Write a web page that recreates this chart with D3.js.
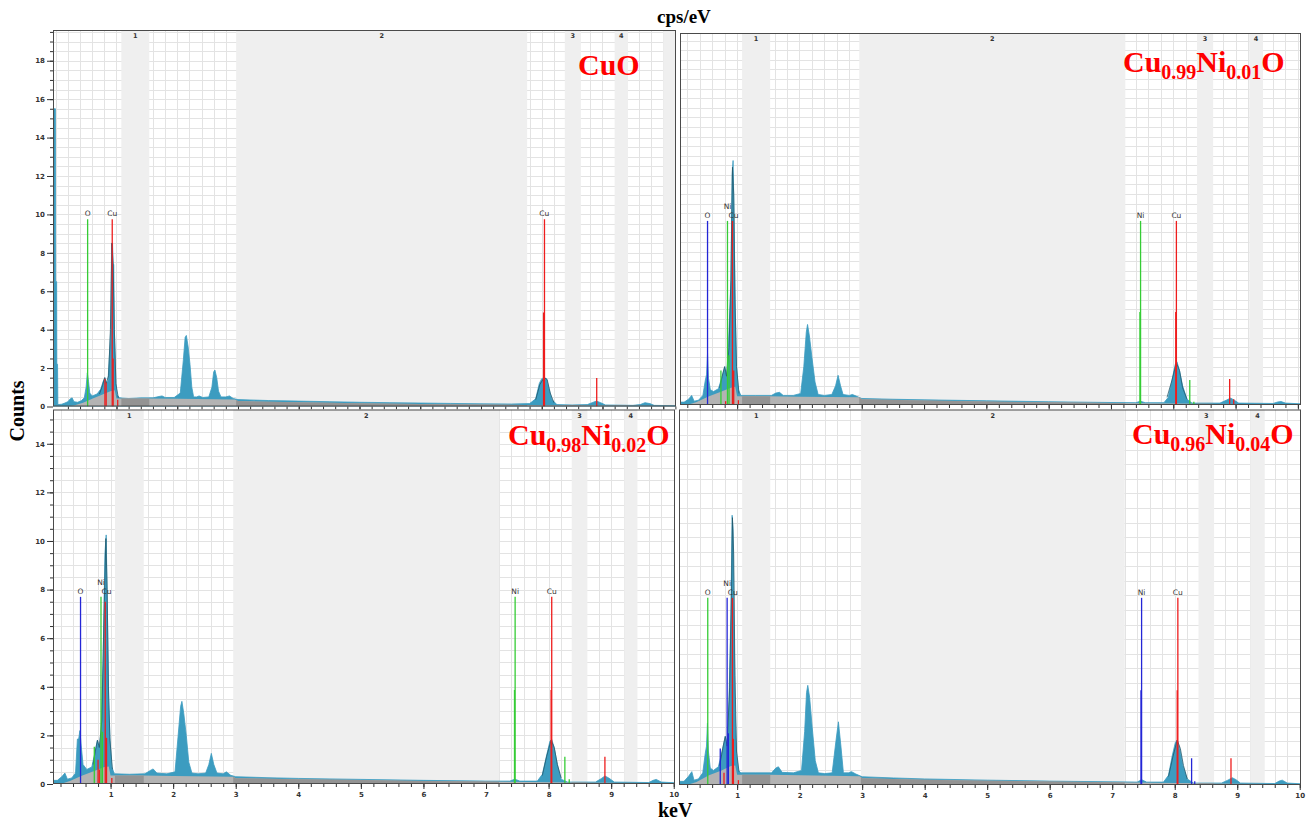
<!DOCTYPE html>
<html>
<head>
<meta charset="utf-8">
<script src="https://cdn.jsdelivr.net/npm/d3@7"></script>
<style>
  html, body { margin: 0; padding: 0; background: #fff; }
  svg { display: block; }
</style>
</head>
<body>
<svg id="chart" width="1310" height="822"></svg>
<script>
// ---- spectra: [keV, counts] ----
const spectrumCuO = [
  [-0.045,15.5],[-0.005,15.5],[-0.002,6.5],[0.015,6.5],[0.018,2.2],[0.03,2.2],[0.035,0.1],
  [0.1,0.12],[0.15,0.18],[0.2,0.25],[0.24,0.4],[0.27,0.45],[0.3,0.25],[0.36,0.22],[0.42,0.3],[0.47,0.45],
  [0.5,1.0],[0.52,1.75],[0.54,1.3],[0.56,0.7],[0.6,0.55],[0.68,0.65],[0.74,0.9],[0.78,1.3],[0.81,1.5],
  [0.83,1.25],[0.86,1.3],[0.89,3.0],[0.905,4.0],[0.92,8.5],[0.935,8.5],[0.945,7.4],[0.955,7.4],[0.965,4.0],
  [0.98,2.5],[0.99,1.2],[1.01,0.6],[1.05,0.45],[1.2,0.42],[1.4,0.45],[1.6,0.45],[1.7,0.52],[1.75,0.55],
  [1.8,0.47],[1.95,0.47],[2.05,0.7],[2.1,2.4],[2.13,3.6],[2.15,3.7],[2.18,3.1],[2.21,2.2],[2.24,1.0],
  [2.27,0.5],[2.32,0.5],[2.36,0.55],[2.42,0.47],[2.52,0.5],[2.57,1.0],[2.6,1.8],[2.62,1.9],[2.65,1.5],
  [2.68,0.8],[2.72,0.5],[2.8,0.5],[2.86,0.55],[2.92,0.42],[3.0,0.36],[3.5,0.31],[4.0,0.28],[4.5,0.25],
  [5,0.22],[5.5,0.2],[6,0.18],[6.5,0.16],[7,0.14],[7.5,0.13],[7.8,0.15],[7.9,0.4],[7.96,1.2],[8.0,1.45],
  [8.04,1.5],[8.08,1.45],[8.12,0.9],[8.17,0.35],[8.25,0.1],[8.5,0.08],[8.75,0.1],[8.83,0.2],[8.9,0.28],
  [8.97,0.2],[9.05,0.08],[9.5,0.06],[9.62,0.1],[9.7,0.2],[9.78,0.15],[9.85,0.06],[10.22,0.04]
];
const spectrumNi01 = [
  [0.083,0.15],[0.15,0.15],[0.22,0.3],[0.27,0.5],[0.31,0.2],[0.38,0.25],[0.45,0.5],[0.49,1.3],[0.51,1.6],
  [0.525,2.7],[0.54,1.4],[0.57,0.8],[0.62,0.7],[0.7,0.85],[0.76,1.5],[0.8,2.0],[0.83,1.5],[0.86,3.0],
  [0.9,6.5],[0.92,12.0],[0.935,12.75],[0.95,10.0],[0.97,5.0],[0.99,2.0],[1.02,0.8],[1.06,0.5],[1.3,0.5],
  [1.55,0.5],[1.62,0.62],[1.68,0.66],[1.74,0.5],[1.9,0.5],[2.02,0.6],[2.07,2.0],[2.11,3.8],[2.13,4.2],
  [2.16,3.6],[2.2,2.5],[2.25,1.2],[2.3,0.55],[2.4,0.5],[2.52,0.55],[2.58,1.0],[2.62,1.55],[2.66,1.0],
  [2.7,0.55],[2.8,0.5],[2.85,0.55],[2.92,0.45],[3.0,0.34],[3.5,0.3],[4,0.27],[5,0.22],[6,0.17],[7,0.13],
  [7.4,0.12],[7.47,0.2],[7.55,0.12],[7.85,0.12],[7.92,0.4],[7.98,1.3],[8.03,2.1],[8.06,2.25],[8.1,1.8],
  [8.15,1.0],[8.22,0.3],[8.3,0.1],[8.75,0.1],[8.85,0.25],[8.92,0.36],[8.98,0.25],[9.05,0.1],[9.6,0.08],
  [9.68,0.16],[9.73,0.18],[9.8,0.1],[10.05,0.06]
];
const spectrumNi02 = [
  [0.08,0.15],[0.15,0.15],[0.22,0.3],[0.27,0.45],[0.31,0.2],[0.38,0.25],[0.44,0.45],[0.47,1.85],[0.49,1.85],
  [0.51,2.2],[0.53,1.6],[0.56,0.8],[0.62,0.6],[0.7,0.7],[0.75,1.3],[0.79,1.8],[0.82,1.5],[0.85,2.2],
  [0.88,5.0],[0.91,9.5],[0.93,10.25],[0.95,7.0],[0.97,3.5],[0.99,1.9],[1.02,0.7],[1.06,0.42],[1.3,0.4],
  [1.55,0.42],[1.63,0.55],[1.68,0.62],[1.74,0.45],[1.9,0.42],[2.03,0.5],[2.08,2.0],[2.12,3.2],[2.14,3.4],
  [2.17,2.9],[2.21,2.0],[2.25,0.9],[2.3,0.45],[2.4,0.42],[2.52,0.45],[2.57,0.8],[2.61,1.26],[2.65,0.8],
  [2.7,0.45],[2.8,0.42],[2.85,0.5],[2.92,0.36],[3.0,0.3],[3.5,0.26],[4,0.23],[5,0.19],[6,0.15],[7,0.12],
  [7.38,0.12],[7.46,0.2],[7.54,0.12],[7.82,0.12],[7.9,0.4],[7.97,1.2],[8.02,1.75],[8.05,1.84],[8.09,1.5],
  [8.14,0.8],[8.2,0.2],[8.3,0.08],[8.75,0.08],[8.84,0.22],[8.9,0.33],[8.96,0.25],[9.05,0.08],[9.6,0.06],
  [9.67,0.15],[9.72,0.19],[9.8,0.08],[10.02,0.05]
];
const spectrumNi04 = [
  [0.07,0.15],[0.15,0.15],[0.22,0.35],[0.275,0.55],[0.31,0.2],[0.38,0.25],[0.45,0.5],[0.49,1.3],[0.51,1.6],
  [0.525,2.55],[0.54,1.4],[0.57,0.7],[0.62,0.6],[0.7,0.75],[0.76,1.4],[0.81,2.0],[0.84,1.6],[0.87,3.5],
  [0.9,7.0],[0.92,11.1],[0.935,10.5],[0.95,7.0],[0.97,3.0],[0.99,1.3],[1.02,0.6],[1.06,0.5],[1.3,0.5],
  [1.55,0.5],[1.62,0.7],[1.66,0.75],[1.72,0.52],[1.9,0.5],[2.03,0.6],[2.08,2.2],[2.11,3.8],[2.13,4.1],
  [2.16,3.6],[2.2,2.4],[2.25,1.0],[2.3,0.5],[2.4,0.47],[2.52,0.5],[2.58,1.8],[2.62,2.6],[2.66,1.6],
  [2.7,0.5],[2.78,0.5],[2.83,0.55],[2.9,0.45],[3.0,0.34],[3.5,0.29],[4,0.25],[5,0.2],[6,0.16],[7,0.13],
  [7.4,0.12],[7.47,0.22],[7.55,0.12],[7.82,0.12],[7.9,0.4],[7.96,1.2],[8.01,1.75],[8.04,1.85],[8.08,1.5],
  [8.13,0.8],[8.2,0.25],[8.3,0.08],[8.75,0.08],[8.85,0.2],[8.92,0.3],[8.98,0.22],[9.05,0.08],[9.6,0.06],
  [9.67,0.16],[9.72,0.2],[9.8,0.08],[10.02,0.05]
];

// ---- fitted background (grey) ----
const bgCuO  = [[0.15,0],[0.3,0.05],[0.45,0.2],[0.6,0.4],[0.75,0.6],[0.9,0.8],[0.97,0.85],[1.0,0.42],[1.5,0.42],[2.0,0.4],[2.95,0.36],[3.0,0.28],[4,0.22],[5,0.17],[6,0.13],[7,0.1],[8,0.07],[9,0.05],[10.22,0.03]];
const bgNi01 = [[0.2,0],[0.35,0.15],[0.55,0.45],[0.75,0.7],[0.9,0.9],[0.97,0.95],[1.0,0.45],[1.5,0.45],[2.0,0.43],[2.96,0.4],[3.0,0.3],[4,0.23],[5,0.18],[6,0.14],[7,0.11],[8,0.08],[9,0.05],[10.05,0.03]];
const bgNi02 = [[0.2,0],[0.35,0.12],[0.55,0.35],[0.75,0.55],[0.9,0.7],[0.97,0.72],[1.0,0.35],[1.52,0.35],[2.0,0.33],[2.96,0.3],[3.0,0.24],[4,0.2],[5,0.16],[6,0.12],[7,0.1],[8,0.07],[9,0.05],[10.02,0.03]];
const bgNi04 = [[0.2,0],[0.35,0.12],[0.55,0.4],[0.75,0.6],[0.9,0.78],[0.97,0.8],[1.0,0.42],[1.52,0.42],[2.0,0.4],[2.96,0.36],[3.0,0.28],[4,0.22],[5,0.18],[6,0.14],[7,0.11],[8,0.08],[9,0.05],[10.02,0.03]];

// ---- peak fit outlines (dark) ----
const fitCuO  = [[[0.72,0.65],[0.77,1.1],[0.805,1.5],[0.83,1.2],[0.87,1.6],[0.9,4.0],[0.925,8.5],[0.945,7.4],[0.965,4.0],[0.99,1.2],[1.03,0.45]],
                 [[7.9,0.35],[7.97,1.15],[8.04,1.5],[8.09,1.4],[8.14,0.7],[8.2,0.2]]];
const fitNi01 = [[[0.72,0.9],[0.76,1.5],[0.8,2.0],[0.83,1.5],[0.87,3.0],[0.9,6.5],[0.925,12.4],[0.945,11.0],[0.965,5.5],[0.99,2.0],[1.03,0.6]],
                 [[7.9,0.4],[7.98,1.3],[8.05,2.2],[8.1,1.8],[8.15,0.9],[8.22,0.3]]];
const fitNi02 = [[[0.72,0.8],[0.76,1.4],[0.79,1.8],[0.82,1.5],[0.86,2.6],[0.9,7.5],[0.925,10.1],[0.945,8.0],[0.965,4.0],[0.99,1.8],[1.03,0.6]],
                 [[7.9,0.35],[7.97,1.15],[8.04,1.8],[8.09,1.5],[8.14,0.8],[8.2,0.25]]];
const fitNi04 = [[[0.72,0.8],[0.77,1.5],[0.81,2.0],[0.84,1.6],[0.88,4.0],[0.91,8.0],[0.925,11.0],[0.945,9.5],[0.965,4.5],[0.99,1.4],[1.03,0.55]],
                 [[7.9,0.35],[7.97,1.15],[8.04,1.85],[8.09,1.5],[8.14,0.8],[8.2,0.25]]];

// ---- element lines: [keV, height, element] ----
const markersCuO = [[0.525,9.75,'O'],[0.93,9.75,'Cu'],[0.945,2.5,'Cu'],[0.81,1.45,'Cu'],[0.83,1.25,'Cu'],[1.02,0.35,'Cu'],
  [8.03,4.9,'Cu'],[8.045,9.75,'Cu'],[8.905,1.48,'Cu']];
const markersNi01 = [[0.525,9.6,'O'],[0.845,9.6,'Ni'],[0.74,1.8,'Ni'],[0.87,2.6,'Ni'],[0.925,9.6,'Cu'],[0.945,1.8,'Cu'],
  [0.815,0.2,'Cu'],[1.02,0.25,'Cu'],[7.475,9.6,'Ni'],[7.465,4.85,'Ni'],[8.265,1.3,'Ni'],[8.33,0.17,'Ni'],
  [8.05,9.6,'Cu'],[8.04,4.85,'Cu'],[8.905,1.35,'Cu'],[8.97,0.3,'Cu']];
const markersNi02 = [[0.52,7.7,'O'],[0.847,7.7,'Ni'],[0.74,1.53,'Ni'],[0.87,2.15,'Ni'],[0.915,7.5,'Cu'],[0.935,1.9,'Cu'],
  [0.8,1.0,'Cu'],[0.82,0.6,'Cu'],[1.02,0.25,'Cu'],[7.465,7.7,'Ni'],[7.455,3.87,'Ni'],[8.26,1.12,'Ni'],[8.33,0.2,'Ni'],
  [8.05,7.7,'Cu'],[8.04,3.87,'Cu'],[8.9,1.12,'Cu']];
const markersNi04 = [[0.53,7.7,'O'],[0.84,7.7,'Ni'],[0.73,1.5,'Ni'],[0.86,2.13,'Ni'],[0.94,0.2,'Ni'],[0.925,7.7,'Cu'],
  [0.94,1.9,'Cu'],[0.79,0.5,'Cu'],[1.02,0.2,'Cu'],[7.47,7.7,'Ni'],[7.46,3.9,'Ni'],[8.27,1.1,'Ni'],[8.32,0.15,'Ni'],
  [8.05,7.7,'Cu'],[8.04,3.9,'Cu'],[8.9,1.1,'Cu']];

// ---- line labels: [keV, height, text, raised] ----
const labelsCuO  = [[0.525,9.75,'O',0],[0.93,9.75,'Cu',0],[8.04,9.75,'Cu',0]];
const labelsNi01 = [[0.525,9.6,'O',0],[0.845,9.6,'Ni',1],[0.94,9.6,'Cu',0],[7.475,9.6,'Ni',0],[8.05,9.6,'Cu',0]];
const labelsNi02 = [[0.52,7.7,'O',0],[0.847,7.7,'Ni',1],[0.935,7.7,'Cu',0],[7.465,7.7,'Ni',0],[8.05,7.7,'Cu',0]];
const labelsNi04 = [[0.53,7.7,'O',0],[0.84,7.7,'Ni',1],[0.93,7.7,'Cu',0],[7.47,7.7,'Ni',0],[8.05,7.7,'Cu',0]];

// ---- integration regions (keV) ----
const bandsCuO  = [[1.08,1.54],[2.97,7.76],[8.38,8.645],[9.2,9.42],[10.0,10.3]];
const bandsNi01 = [[1.08,1.53],[2.96,7.23],[8.38,8.64],[9.22,9.44]];
const bandsNi02 = [[1.07,1.53],[2.96,7.21],[8.37,8.62],[9.21,9.42]];
const bandsNi04 = [[1.08,1.53],[2.98,7.2],[8.38,8.63],[9.21,9.44]];
const bandNames = ['1', '2', '3', '4'];

// ---- ticks and titles ----
const yTicksTop = [0, 2, 4, 6, 8, 10, 12, 14, 16, 18];
const yTicksBottom = [0, 2, 4, 6, 8, 10, 12, 14];
const xTicks = [1, 2, 3, 4, 5, 6, 7, 8, 9, 10];
const titleCuO  = [['CuO', 0]];
const titleNi01 = [['Cu', 0], ['0.99', 1], ['Ni', 0], ['0.01', 1], ['O', 0]];
const titleNi02 = [['Cu', 0], ['0.98', 1], ['Ni', 0], ['0.02', 1], ['O', 0]];
const titleNi04 = [['Cu', 0], ['0.96', 1], ['Ni', 0], ['0.04', 1], ['O', 0]];

const GREEN = '#35cc35', RED = '#ee1d1d', BLUE = '#2426d6';
const SERIF = "'Liberation Serif', 'Times New Roman', serif";
const SANS = "'DejaVu Sans', Verdana, sans-serif";

const panels = [
  { left: 53, right: 676, top: 30, bottom: 406.5, xDomain: [-0.045, 10.21], yMax: 19.6, grid: 0.5,
    spectrum: spectrumCuO, bg: bgCuO, fit: fitCuO, markers: markersCuO, labels: labelsCuO, bands: bandsCuO,
    colors: { O: GREEN, Cu: RED }, yTicks: yTicksTop, xLabels: false,
    title: titleCuO, titleX: 578, titleY: 75 },
  { left: 680, right: 1301, top: 33, bottom: 405, xDomain: [0.083, 10.05], yMax: 19.4, grid: 0.5,
    spectrum: spectrumNi01, bg: bgNi01, fit: fitNi01, markers: markersNi01, labels: labelsNi01, bands: bandsNi01,
    colors: { O: BLUE, Ni: GREEN, Cu: RED }, yTicks: null, xLabels: false,
    title: titleNi01, titleX: 1123, titleY: 72 },
  { left: 53, right: 675, top: 409.5, bottom: 784, xDomain: [0.08, 10.02], yMax: 15.41, grid: 0.5,
    spectrum: spectrumNi02, bg: bgNi02, fit: fitNi02, markers: markersNi02, labels: labelsNi02, bands: bandsNi02,
    colors: { O: BLUE, Ni: GREEN, Cu: RED }, yTicks: yTicksBottom, xLabels: true,
    title: titleNi02, titleX: 508, titleY: 445 },
  { left: 679, right: 1301, top: 409.5, bottom: 785, xDomain: [0.07, 10.02], yMax: 15.45, grid: 0.6,
    spectrum: spectrumNi04, bg: bgNi04, fit: fitNi04, markers: markersNi04, labels: labelsNi04, bands: bandsNi04,
    colors: { O: GREEN, Ni: BLUE, Cu: RED }, yTicks: null, xLabels: true,
    title: titleNi04, titleX: 1132, titleY: 444 }
];

const svg = d3.select('#chart');
svg.append('rect').attr('width', 1310).attr('height', 822).attr('fill', '#fff');
const defs = svg.append('defs');

panels.forEach((p, i) => {
  const x = d3.scaleLinear().domain(p.xDomain).range([p.left, p.right]);
  const y = d3.scaleLinear().domain([0, p.yMax]).range([p.bottom, p.top]);
  const w = p.right - p.left, h = p.bottom - p.top;

  defs.append('clipPath').attr('id', `plot-${i}`)
    .append('rect').attr('x', p.left).attr('y', p.top).attr('width', w).attr('height', h);
  defs.append('clipPath').attr('id', `bands-${i}`)
    .selectAll('rect').data(p.bands).join('rect')
    .attr('x', (d) => x(d[0])).attr('y', p.top)
    .attr('width', (d) => x(d[1]) - x(d[0])).attr('height', h);

  const g = svg.append('g');
  g.append('rect').attr('x', p.left).attr('y', p.top).attr('width', w).attr('height', h).attr('fill', '#fff');

  const plot = g.append('g').attr('clip-path', `url(#plot-${i})`);

  // grid: 0.2 keV vertically, fixed count step horizontally
  const vGrid = d3.range(Math.ceil(p.xDomain[0] / 0.2) * 0.2, p.xDomain[1], 0.2);
  const hGrid = d3.range(p.grid, p.yMax, p.grid);
  plot.append('g').selectAll('line').data(vGrid).join('line')
    .attr('x1', (d) => Math.round(x(d)) + 0.5).attr('x2', (d) => Math.round(x(d)) + 0.5)
    .attr('y1', p.top).attr('y2', p.bottom)
    .attr('stroke', '#e3e3e3').attr('stroke-width', 1);
  plot.append('g').selectAll('line').data(hGrid).join('line')
    .attr('x1', p.left).attr('x2', p.right)
    .attr('y1', (d) => Math.round(y(d)) + 0.5).attr('y2', (d) => Math.round(y(d)) + 0.5)
    .attr('stroke', '#e3e3e3').attr('stroke-width', 1);

  // integration regions
  plot.append('g').selectAll('rect').data(p.bands).join('rect')
    .attr('x', (d) => x(d[0])).attr('y', p.top)
    .attr('width', (d) => x(d[1]) - x(d[0])).attr('height', h)
    .attr('fill', '#efefef');

  // spectrum
  const area = d3.area().x((d) => x(d[0])).y0(p.bottom).y1((d) => y(d[1]));
  const line = d3.line().x((d) => x(d[0])).y((d) => y(d[1]));
  plot.append('path').datum(p.spectrum).attr('d', area)
    .attr('fill', '#3c9cc0').attr('stroke', '#3c9cc0').attr('stroke-width', 0.8);
  plot.append('g').selectAll('path').data(p.fit).join('path')
    .attr('d', line).attr('fill', 'none').attr('stroke', '#1f5466').attr('stroke-width', 0.9)
    .attr('stroke-opacity', 0.85);

  // background fit, darker inside the regions
  plot.append('path').datum(p.bg).attr('d', area).attr('fill', '#b3b3b3');
  plot.append('path').datum(p.bg).attr('d', area).attr('fill', '#939393')
    .attr('clip-path', `url(#bands-${i})`);

  // element lines
  plot.append('g').selectAll('line').data(p.markers).join('line')
    .attr('x1', (d) => x(d[0])).attr('x2', (d) => x(d[0]))
    .attr('y1', p.bottom).attr('y2', (d) => y(d[1]))
    .attr('stroke', (d) => p.colors[d[2]]).attr('stroke-width', 1.3);

  g.append('g').selectAll('text').data(p.labels).join('text')
    .attr('x', (d) => x(d[0])).attr('y', (d) => y(d[1]) - 3 - d[3] * 9)
    .attr('text-anchor', 'middle').attr('font-family', SANS).attr('font-size', 7.5)
    .attr('fill', '#333').text((d) => d[2]);

  g.append('g').selectAll('text').data(p.bands.slice(0, bandNames.length)).join('text')
    .attr('x', (d) => x((d[0] + d[1]) / 2)).attr('y', p.top + 8)
    .attr('text-anchor', 'middle').attr('font-family', SANS).attr('font-size', 6.5)
    .attr('font-weight', 'bold').attr('fill', '#333')
    .text((d, k) => bandNames[k]);

  // sample name
  const t = g.append('text').attr('x', p.titleX).attr('y', p.titleY)
    .attr('font-family', SERIF).attr('font-weight', 'bold').attr('fill', '#ff0000');
  let low = 0;
  p.title.forEach(([s, sub]) => {
    const dy = sub === low ? 0 : (sub ? 7 : -7);
    low = sub;
    t.append('tspan').attr('dy', dy).attr('font-size', sub ? 20 : 30).text(s);
  });

  // axes
  const minorX = d3.range(Math.ceil(p.xDomain[0] / 0.2) * 0.2, p.xDomain[1], 0.2).filter((d) => d > 0.05);
  const xMinor = g.append('g').attr('transform', `translate(0,${p.bottom})`)
    .call(d3.axisBottom(x).tickValues(minorX).tickSize(3).tickSizeOuter(0).tickFormat(''));
  xMinor.select('.domain').remove();
  const xMajor = g.append('g').attr('transform', `translate(0,${p.bottom})`)
    .call(d3.axisBottom(x).tickValues(xTicks.filter((d) => d <= p.xDomain[1]))
      .tickSize(5).tickSizeOuter(0).tickPadding(3).tickFormat(p.xLabels ? d3.format('d') : ''));
  xMajor.select('.domain').remove();
  [xMinor, xMajor].forEach((a) => a.attr('color', '#333'));
  xMajor.selectAll('text').attr('font-family', SANS).attr('font-size', 7).attr('font-weight', 'bold');

  if (p.yTicks) {
    const yMinor = g.append('g').attr('transform', `translate(${p.left},0)`)
      .call(d3.axisLeft(y).tickValues(d3.range(0.5, p.yMax, 0.5)).tickSize(3).tickSizeOuter(0).tickFormat(''));
    yMinor.select('.domain').remove();
    const yMajor = g.append('g').attr('transform', `translate(${p.left},0)`)
      .call(d3.axisLeft(y).tickValues(p.yTicks).tickSize(6).tickSizeOuter(0).tickPadding(2));
    yMajor.select('.domain').remove();
    [yMinor, yMajor].forEach((a) => a.attr('color', '#333'));
    yMajor.selectAll('text').attr('font-family', SANS).attr('font-size', 7).attr('font-weight', 'bold');
  }

  g.append('rect').attr('x', p.left + 0.5).attr('y', p.top + 0.5)
    .attr('width', w - 1).attr('height', h - 1)
    .attr('fill', 'none').attr('stroke', '#4a4a4a').attr('stroke-width', 1);
});

// axis titles
svg.append('text').attr('x', 657).attr('y', 23)
  .attr('font-family', SERIF).attr('font-weight', 'bold').attr('font-size', 19).text('cps/eV');
svg.append('text').attr('transform', 'translate(24,411) rotate(-90)').attr('text-anchor', 'middle')
  .attr('font-family', SERIF).attr('font-weight', 'bold').attr('font-size', 20).text('Counts');
svg.append('text').attr('x', 658).attr('y', 817)
  .attr('font-family', SERIF).attr('font-weight', 'bold').attr('font-size', 20).text('keV');
</script>
</body>
</html>
